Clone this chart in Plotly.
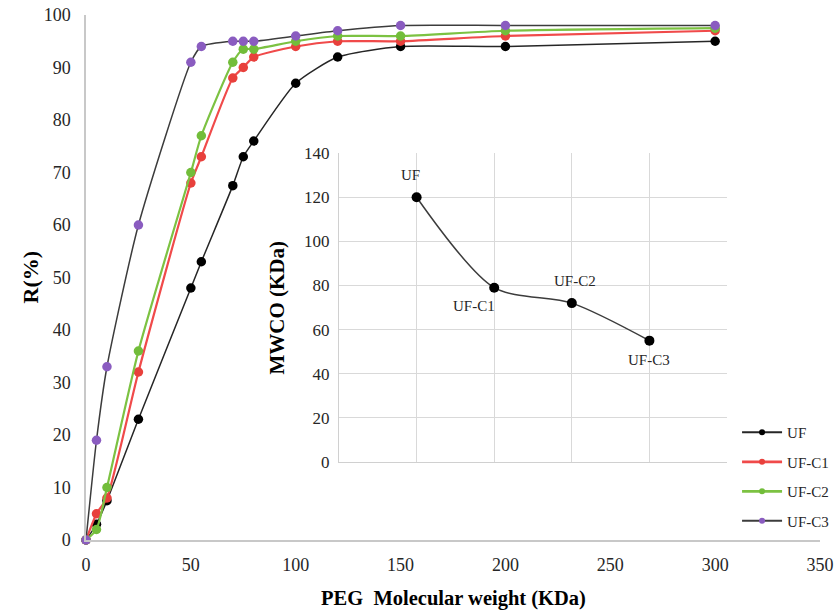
import plotly.graph_objects as go

# ---- Main chart data ----
peg_mw = [0, 5, 10, 25, 50, 55, 70, 75, 80, 100, 120, 150, 200, 300]
r_uf = [0, 3, 7.5, 23, 48, 53, 67.5, 73, 76, 87, 92, 94, 94, 95]
r_uf_c1 = [0, 5, 8, 32, 68, 73, 88, 90, 92, 94, 95, 95, 96, 97]
r_uf_c2 = [0, 2, 10, 36, 70, 77, 91, 93.5, 93.5, 95, 96, 96, 97, 97.5]
r_uf_c3 = [0, 19, 33, 60, 91, 94, 95, 95, 95, 96, 97, 98, 98, 98]
series_names = ["UF", "UF-C1", "UF-C2", "UF-C3"]

# ---- Inset data ----
inset_pos = [1, 2, 3, 4]
inset_labels = ["UF", "UF-C1", "UF-C2", "UF-C3"]
mwco = [120, 79, 72, 55]

FONT = "Liberation Serif"
TXT = "#262626"

fig = go.Figure()

styles = [
    (r_uf, "#262626", "#000000", 1.5),
    (r_uf_c1, "#F04A4A", "#E8403C", 2.2),
    (r_uf_c2, "#7CC242", "#72BD3A", 2.2),
    (r_uf_c3, "#3C3C3C", "#8A5CC0", 1.5),
]
for i, (ys, lc, mc, lw) in enumerate(styles):
    fig.add_trace(go.Scatter(
        x=peg_mw, y=ys, name=series_names[i], mode="lines+markers",
        line=dict(color=lc, width=lw, shape="spline", smoothing=0.6),
        marker=dict(color=mc, size=9.5, symbol="circle"),
        cliponaxis=False, showlegend=False,
        xaxis="x", yaxis="y",
    ))
    # legend entry with a smaller marker, as in the reference
    fig.add_trace(go.Scatter(
        x=[None], y=[None], name=series_names[i], mode="lines+markers",
        line=dict(color=lc, width=lw + 0.5), marker=dict(color=mc, size=6),
        legendgroup=series_names[i], xaxis="x", yaxis="y",
    ))

# inset
fig.add_trace(go.Scatter(
    x=inset_pos, y=mwco, mode="lines+markers", showlegend=False,
    line=dict(color="#3C3C3C", width=1.5, shape="spline", smoothing=0.8),
    marker=dict(color="#000000", size=10),
    xaxis="x2", yaxis="y2", cliponaxis=False,
))

offsets = [(-6, 22), (-20, -18), (3, 22), (0, -19)]
for p, lab, v, (dx, dy) in zip(inset_pos, inset_labels, mwco, offsets):
    fig.add_annotation(x=p, y=v, xref="x2", yref="y2", text=lab, showarrow=False,
                       xshift=dx, yshift=dy,
                       font=dict(family=FONT, size=15, color=TXT))

# axis titles as annotations (fixed pixel placement)
fig.add_annotation(x=0.5, y=0, xref="paper", yref="paper", yshift=-58,
                   text="<b>PEG  Molecular weight (KDa)</b>", showarrow=False,
                   xanchor="center", yanchor="middle",
                   font=dict(family=FONT, size=20.5, color="#000"))
fig.add_annotation(x=0, y=0.5, xref="paper", yref="paper", xshift=-56, textangle=-90,
                   text="<b>R(%)</b>", showarrow=False,
                   xanchor="center", yanchor="middle",
                   font=dict(family=FONT, size=22, color="#000"))
fig.add_annotation(x=0.3447, y=(0.1486 + 0.737) / 2, xref="paper", yref="paper",
                   xshift=-62, textangle=-90,
                   text="<b>MWCO (KDa)</b>", showarrow=False,
                   xanchor="center", yanchor="middle",
                   font=dict(family=FONT, size=21, color="#000"))

fig.update_layout(
    width=840, height=613,
    margin=dict(l=86, r=20, t=15, b=73, autoexpand=False),
    paper_bgcolor="white", plot_bgcolor="white",
    font=dict(family=FONT, size=18, color=TXT),
    showlegend=True,
    legend=dict(x=0.887, y=0.236, xanchor="left", yanchor="top",
                font=dict(family=FONT, size=15, color=TXT),
                itemwidth=40, tracegroupgap=7, bgcolor="rgba(0,0,0,0)"),
    xaxis=dict(range=[0, 350], dtick=50, showgrid=False, zeroline=False,
               showline=True, linecolor="#C8C8C8", linewidth=1.5, automargin=False,
               ticks="outside", ticklen=8, tickcolor="rgba(0,0,0,0)",
               tickfont=dict(family=FONT, size=18, color=TXT)),
    yaxis=dict(range=[0, 100], dtick=10, showgrid=False, zeroline=False,
               showline=True, linecolor="#C8C8C8", linewidth=1.5, automargin=False,
               ticks="outside", ticklen=10, tickcolor="rgba(0,0,0,0)",
               tickfont=dict(family=FONT, size=18, color=TXT)),
    xaxis2=dict(domain=[0.3447, 0.8733], anchor="y2", range=[0, 5], dtick=1,
                showticklabels=False, showgrid=True, gridcolor="#D9D9D9", gridwidth=1.2,
                zeroline=False, showline=True, linecolor="#D0D0D0", automargin=False),
    yaxis2=dict(domain=[0.1486, 0.737], anchor="x2", range=[0, 140], dtick=20,
                showgrid=True, gridcolor="#D9D9D9", gridwidth=1.2, zeroline=False,
                showline=True, linecolor="#D0D0D0", automargin=False,
                ticks="outside", ticklen=5, tickcolor="rgba(0,0,0,0)",
                tickfont=dict(family=FONT, size=17, color=TXT)),
)

fig.write_html(
    "out.html",
    config={"displayModeBar": False},
    post_script="document.body.style.margin='0';document.body.style.overflow='hidden';",
)
